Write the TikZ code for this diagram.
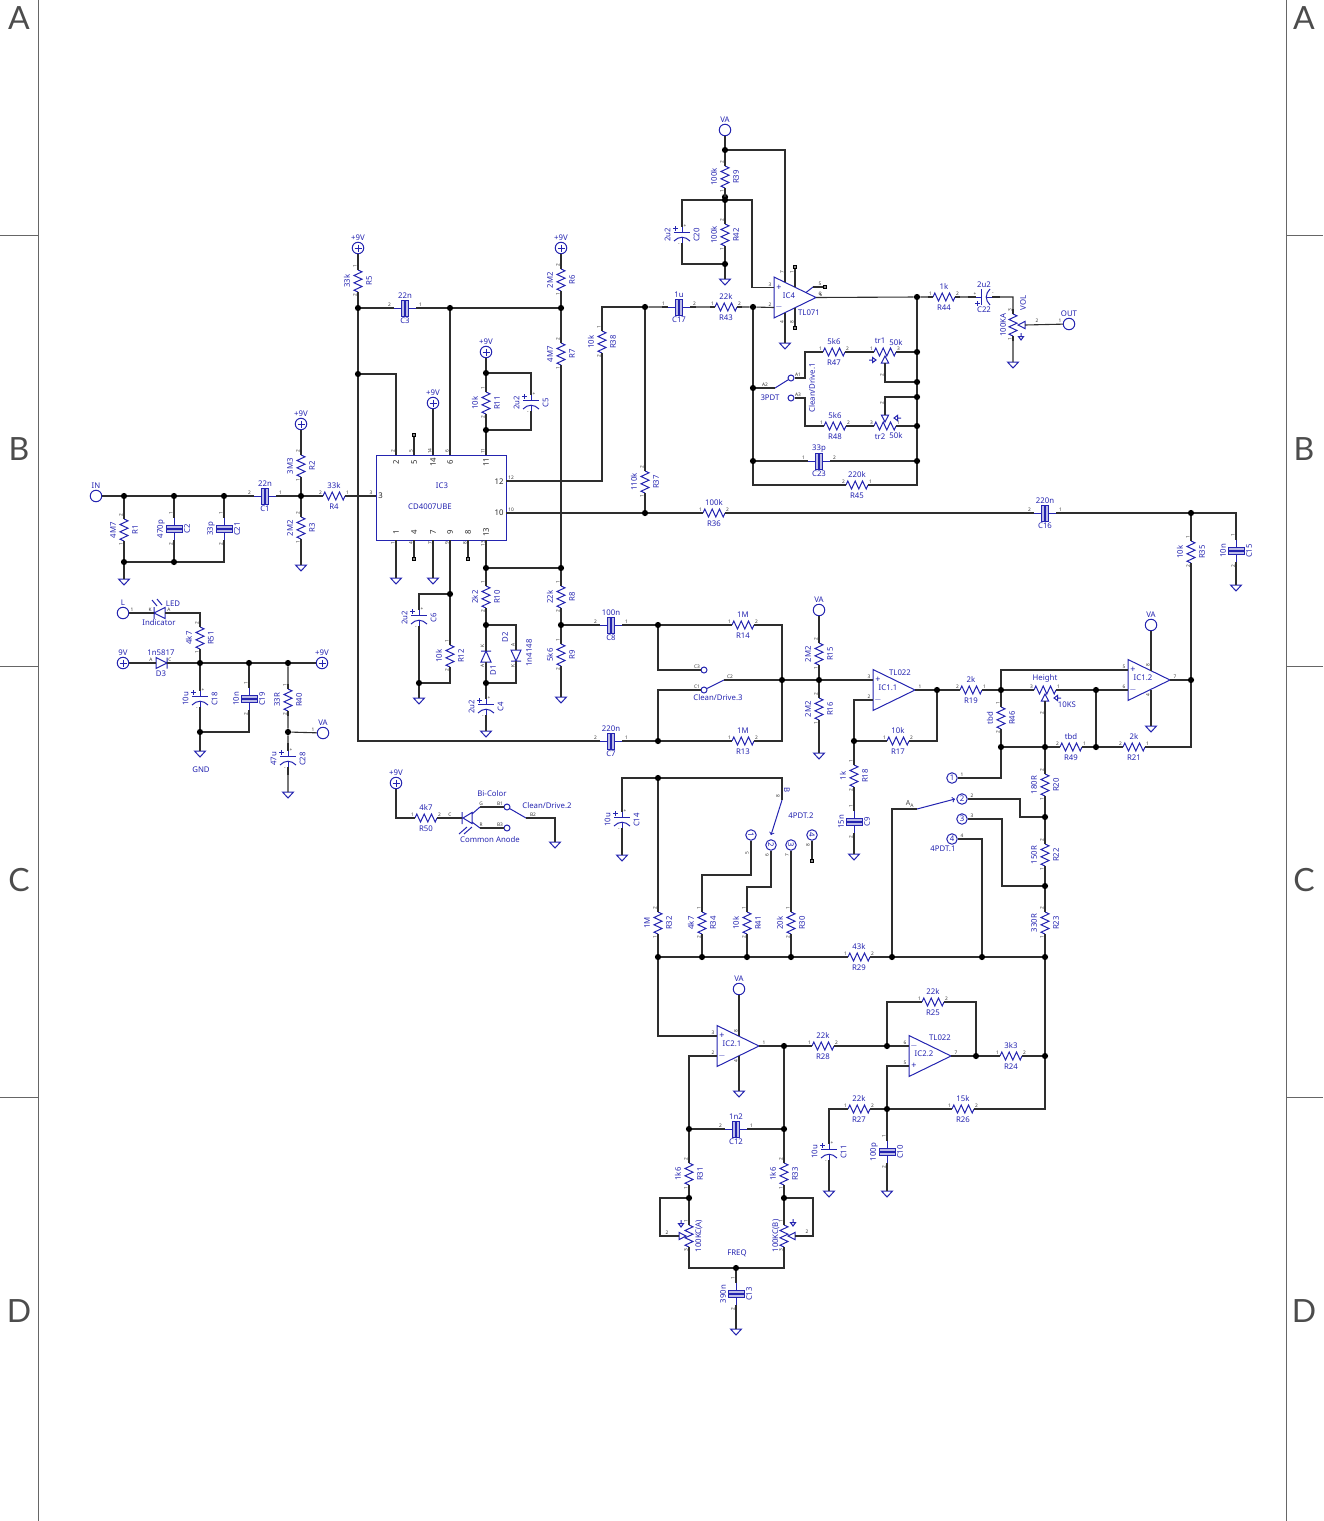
\documentclass[tikz,border=0pt]{standalone}
\usepackage{fontspec}
\setmainfont{Noto Sans}
\newfontfamily\edgefont{Lato}
\usepackage{xcolor}
\definecolor{partblue}{HTML}{2424B0}
\definecolor{wirecol}{HTML}{2E2E2E}

\tikzset{
  wire/.style={draw=wirecol,line width=1.1pt},
  part/.style={draw=partblue,line width=1pt},
  lbl/.style={text=partblue,font=\fontsize{7.8}{8}\selectfont,inner sep=0pt},
  pinnum/.style={text=black!80,font=\fontsize{4.8}{5}\selectfont,inner sep=0pt},
  icpin/.style={text=black!85,font=\fontsize{7.8}{8}\selectfont,inner sep=0pt},
  dot/.style={circle,fill=black,inner sep=0pt,minimum size=6.2pt},
  term/.style={circle,draw=partblue,line width=1pt,fill=white,inner sep=0pt,minimum size=11.5pt},
  termnum/.style={term,text=partblue,font=\fontsize{7.8}{8}\selectfont,minimum size=10.5pt},
  contact/.style={circle,draw=partblue,line width=1pt,fill=white,inner sep=0pt,minimum size=6pt},
  ncsq/.style={rectangle,draw=black,fill=black!45,line width=0.7pt,inner sep=0pt,minimum size=3.6pt},
  edgelet/.style={text=black!70,font=\edgefont\fontsize{32}{32}\selectfont,inner sep=0pt},
  edgeline/.style={draw=black!60,line width=1pt},
  zig/.pic={\draw[part] (0,-11)--(4,-9.2)--(-4,-5.5)--(4,-1.8)--(-4,1.8)--(4,5.5)--(-4,9.2)--(0,11);},
  plates/.pic={\draw[part] (0,-11)--(0,-3.4) (0,3.4)--(0,11);
    \draw[part,fill=partblue!30,line width=0.8pt] (-8,-3.4) rectangle (8,-0.8);
    \draw[part,fill=partblue!30,line width=0.8pt] (-8,0.8) rectangle (8,3.4);},
  polar/.pic={\draw[part] (0,-8)--(0,-3) (0,1.6)--(0,8);
    \draw[part] (-8,-3)--(8,-3);
    \draw[part] (-8,6) .. controls (-3,1) and (3,1) .. (8,6);
    \draw[part,line width=1.2pt] (-8.6,-6.6)--(-4,-6.6) (-6.3,-8.9)--(-6.3,-4.3);},
}

% name, x, y, value, ref, pin, pin
\newcommand{\resv}[7]{\begin{scope}[shift={(#2,#3)}]
  \coordinate (#1t) at (0,-16); \coordinate (#1b) at (0,16);
  \pic {zig}; \draw[wire] (#1t)--(0,-11) (#1b)--(0,11);
  \node[lbl,rotate=90] (#1val) at (-11,0) {#4};
  \node[lbl,rotate=90] (#1ref) at (11,0) {#5};
  \node[pinnum,rotate=90] (#1pa) at (-3,-14.5) {#6};
  \node[pinnum,rotate=90] (#1pb) at (-3,14.5) {#7};
\end{scope}}
\newcommand{\resh}[7]{\begin{scope}[shift={(#2,#3)}]
  \coordinate (#1l) at (-16,0); \coordinate (#1r) at (16,0);
  \pic[rotate=90] {zig}; \draw[wire] (#1l)--(-11,0) (#1r)--(11,0);
  \node[lbl] (#1val) at (0,-10.5) {#4};
  \node[lbl] (#1ref) at (0,11) {#5};
  \node[pinnum] (#1pa) at (-13.5,-3) {#6};
  \node[pinnum] (#1pb) at (13.5,-3) {#7};
\end{scope}}
\newcommand{\capv}[7]{\begin{scope}[shift={(#2,#3)}]
  \coordinate (#1t) at (0,-17); \coordinate (#1b) at (0,17);
  \pic {plates}; \draw[wire] (#1t)--(0,-11) (#1b)--(0,11);
  \node[lbl,rotate=90] (#1val) at (-13,0) {#4};
  \node[lbl,rotate=90] (#1ref) at (13,0) {#5};
  \node[pinnum,rotate=90] (#1pa) at (-3,-15.5) {#6};
  \node[pinnum,rotate=90] (#1pb) at (-3,15.5) {#7};
\end{scope}}
\newcommand{\caph}[7]{\begin{scope}[shift={(#2,#3)}]
  \coordinate (#1l) at (-17,0); \coordinate (#1r) at (17,0);
  \pic[rotate=90] {plates}; \draw[wire] (#1l)--(-11,0) (#1r)--(11,0);
  \node[lbl] (#1val) at (0,-12) {#4};
  \node[lbl] (#1ref) at (0,12.5) {#5};
  \node[pinnum] (#1pa) at (-15.5,-3) {#6};
  \node[pinnum] (#1pb) at (15.5,-3) {#7};
\end{scope}}
% name, x, y, value, ref
\newcommand{\polv}[5]{\begin{scope}[shift={(#2,#3)}]
  \coordinate (#1t) at (0,-16); \coordinate (#1b) at (0,16);
  \pic {polar}; \draw[wire] (#1t)--(0,-8) (#1b)--(0,8);
  \node[lbl,rotate=90] (#1val) at (-14.5,0) {#4};
  \node[lbl,rotate=90] (#1ref) at (14.5,0) {#5};
  \node[pinnum] (#1pa) at (3,-9) {+};
  \node[pinnum] (#1pb) at (-3,9.5) {-};
\end{scope}}
\newcommand{\polh}[5]{\begin{scope}[shift={(#2,#3)}]
  \coordinate (#1l) at (-16,0); \coordinate (#1r) at (16,0);
  \pic[rotate=90] {polar}; \draw[wire] (#1l)--(-8,0) (#1r)--(8,0);
  \node[lbl] (#1val) at (0,-12) {#4};
  \node[lbl] (#1ref) at (0,13) {#5};
  \node[pinnum] (#1pa) at (-9,-3) {+};
  \node[pinnum] (#1pb) at (9,-3) {-};
\end{scope}}
\newcommand{\gnd}[3]{\coordinate (#1) at (#2,#3);
  \draw[part] (#2-5.5,#3)--(#2+5.5,#3)--(#2,#3+6)--cycle;}
\newcommand{\ringterm}[5]{\node[term] (#1) at (#2,#3) {};
  \node[lbl] (#1txt) at (#2+#5,#3-10) {#4};}
\newcommand{\plusterm}[4]{\node[term] (#1) at (#2,#3) {};
  \draw[part] (#2-3.5,#3)--(#2+3.5,#3) (#2,#3-3.5)--(#2,#3+3.5);
  \node[lbl] (#1txt) at (#2,#3-10) {#4};}
% name, x, y, angle of the base seen from the apex
\newcommand{\wipe}[4]{\begin{scope}[shift={(#2,#3)},rotate=#4]
  \draw[part] (0,0)--(7,-3.6)--(7,3.6)--cycle;
  \coordinate (#1) at (7,0);
\end{scope}}
\newcommand{\spinmark}[3]{\begin{scope}[shift={(#1,#2)},rotate=#3]
  \draw[part] (-3,0)--(0.5,-2.6)--(0.5,2.6)--cycle (0.5,0)--(4,0);
\end{scope}}
% name, x, y, label, sign, sign, pin, pin, pin
\newcommand{\opamp}[9]{\begin{scope}[shift={(#2,#3)}]
  \draw[part] (0,-20.5)--(42,0)--(0,20.5)--cycle;
  \coordinate (#1u) at (0,-10); \coordinate (#1d) at (0,10); \coordinate (#1o) at (42,0);
  \node[lbl] (#1txt) at (15,-2) {#4};
  \node[lbl,font=\fontsize{9}{9}\selectfont] (#1su) at (5,-10) {#5};
  \node[lbl,font=\fontsize{9}{9}\selectfont] (#1sd) at (5,10) {#6};
  \node[pinnum] (#1pu) at (-4,-13) {#7};
  \node[pinnum] (#1pd) at (-4,7) {#8};
  \node[pinnum] (#1po) at (47,-3) {#9};
\end{scope}}

\begin{document}
\begin{tikzpicture}[x=1pt,y=-1pt]
\useasboundingbox (0,0) rectangle (1323,1521);

% sheet edge
\coordinate (eL0) at (38,0); \coordinate (eL1) at (38,1521);
\coordinate (eR0) at (1286,0); \coordinate (eR1) at (1286,1521);
\draw[edgeline] (eL0)--(eL1) (eR0)--(eR1);
\foreach \y in {235,666,1097}{
  \coordinate (tl\y) at (0,\y); \coordinate (il\y) at (38,\y);
  \coordinate (tr\y) at (1323,\y); \coordinate (ir\y) at (1286,\y);
  \draw[edgeline] (tl\y)--(il\y) (tr\y)--(ir\y);
}
\foreach \n/\t/\y in {a/A/18,b/B/449,c/C/880,d/D/1311}{
  \node[edgelet] (let\n l) at (19,\y) {\t};
  \node[edgelet] (let\n r) at (1304,\y) {\t};
}

% junctions
\foreach \n/\x/\y in {ja1/124/496,ja2/174/496,ja3/224/496,ja4/124/562,ja5/174/562,ja6/301/496,
  jb1/358/308,jb2/358/374,jb3/450/308,jb4/561/308,jb5/486/373,jb6/486/430,
  jc1/450/594,jc2/419/683,jc3/486/568,jc4/561/568,jc5/486/625,jc6/486/683,jc7/561/625,
  jd1/645/307,jd2/645/513,
  je1/725/150,je2/725/197,je3/725/200,je4/725/264,je5/753/307,je6/753/388,je7/753/461,
  je8/917/297,je9/917/352,je10/917/382,je11/917/397,je12/917/426,je13/917/461,
  jf1/658/625,jf2/658/741,jf3/782/680,jf4/819/680,jf5/937/690,jf6/854/741,jf7/1001/690,
  jf8/1096/690,jf9/1191/680,jf10/1191/513,jf11/1001/747,jf12/1045/747,jf13/1096/747,
  jf14/1045/817,jf15/1045/886,jf16/1045/957,
  jg1/658/778,jg2/658/957,jg3/702/957,jg4/747/957,jg5/791/957,jg6/892/957,jg7/982/957,
  jh1/784/1046,jh2/887/1046,jh3/976/1056,jh4/1045/1056,jh5/887/1109,jh6/689/1129,jh7/784/1129,
  jh8/689/1198,jh9/784/1198,jh10/736/1268,
  ji1/200/663,ji2/249/663,ji3/288/663,ji4/200/732,ji5/288/732}
  \node[dot] (\n) at (\x,\y) {};

% input
\ringterm{IN}{96}{496}{IN}{0}
\resv{R1}{124}{530}{4M7}{R1}{2}{1}
\capv{C2}{174}{529}{470p}{C2}{1}{2}
\capv{C21}{224}{529}{33p}{C21}{1}{2}
\caph{C1}{265}{496}{22n}{C1}{2}{1}
\resv{R2}{301}{466}{3M3}{R2}{2}{1}
\resv{R3}{301}{528}{2M2}{R3}{2}{1}
\resh{R4}{334}{496}{33k}{R4}{2}{1}
\plusterm{P2}{301}{424}{+9V}
\gnd{G1}{124}{579} \gnd{G2}{301}{565}
\draw[wire] (IN)--(ja1)--(ja2)--(ja3)--(C1l) (C1r)--(ja6)--(R4l);
\draw[wire] (ja1)--(R1t) (R1b)--(ja4)--(G1) (ja4)--(ja5) (ja2)--(C2t) (C2b)--(ja5) (ja3)--(C21t) (C21b)|-(ja5);
\draw[wire] (P2)--(R2t) (R2b)--(ja6)--(R3t) (R3b)--(G2);

% power
\ringterm{TL}{123}{613}{L}{0}
\plusterm{T9}{123}{663}{9V}
\plusterm{P3}{322}{663}{+9V}
\ringterm{VA1}{323}{733}{VA}{0}
\coordinate (Lk) at (154,613); \coordinate (La) at (165,613); \coordinate (Lc) at (200,613);
\draw[part,fill=white] (165,607.5)--(Lk)--(165,618.5)--cycle (154,607)--(154,619);
\draw[part] (152,600)--(157,606) (157,599)--(162,605);
\node[lbl] (LEDtxt) at (173,604) {LED};
\node[lbl] (Indtxt) at (159,623) {Indicator};
\node[pinnum] (Lp1) at (132,610) {1}; \node[pinnum] (Lpk) at (150,610) {K}; \node[pinnum] (Lpa) at (169,610) {A};
\coordinate (D3a) at (156,663); \coordinate (D3k) at (167,663);
\draw[part,fill=white] (156,657.5)--(D3k)--(156,668.5)--cycle (167,657.5)--(167,668.5);
\node[lbl] (D3val) at (161,653) {1n5817}; \node[lbl] (D3ref) at (161,674) {D3};
\node[pinnum] (D3pa) at (151,660) {A}; \node[pinnum] (D3pc) at (170,660) {C};
\resv{R51}{200}{638}{4k7}{R51}{2}{1}
\polv{C18}{200}{699}{10u}{C18}
\capv{C19}{249}{699}{10n}{C19}{1}{2}
\resv{R40}{288}{700}{33R}{R40}{1}{2}
\polv{C28}{288}{759}{47u}{C28}
\gnd{G3}{200}{751} \gnd{G4}{288}{792}
\node[lbl] (GNDtxt) at (201,770) {GND};
\node[pinnum] (VAp1) at (313,730) {1};
\draw[wire] (TL)--(Lk) (La)-|(Lc)--(R51t) (R51b)--(ji1);
\draw[wire] (T9)--(D3a) (D3k)--(ji1)--(ji2)--(ji3)--(P3);
\draw[wire] (ji1)--(C18t) (C18b)--(ji4)--(G3) (ji2)--(C19t) (C19b)|-(ji4);
\draw[wire] (ji3)--(R40t) (R40b)--(ji5)--(VA1) (ji5)--(C28t) (C28b)--(G4);

% CD4007
\node[draw=partblue,line width=1pt,inner sep=0pt,minimum width=130pt,minimum height=85pt] (IC3) at (441,497.5) {};
\node[lbl] (IC3txt) at (442,486) {IC3};
\node[lbl] (IC3val) at (430,507) {CD4007UBE};
\foreach \n/\x in {2/396,5/414,14/433,6/450,11/486}{
  \coordinate (up\n) at (\x,455);
  \node[icpin,rotate=90] (ut\n) at (\x,462) {\n};
  \node[pinnum,rotate=90] (up\n n) at (\x-3,451) {\n};
}
\foreach \n/\x in {1/396,4/414,7/433,9/450,8/468,13/486}{
  \coordinate (dn\n) at (\x,540);
  \node[icpin,rotate=90] (dt\n) at (\x,532) {\n};
  \node[pinnum,rotate=90] (dn\n n) at (\x-3,543.5) {\n};
}
\coordinate (pin3) at (376,496); \coordinate (pin12) at (506,481); \coordinate (pin10) at (506,513);
\node[icpin] (tx3) at (380.5,496) {3}; \node[pinnum] (nu3) at (371,493) {3};
\node[icpin] (tx12) at (499,482) {12}; \node[pinnum] (nu12) at (511,478) {12};
\node[icpin] (tx10) at (499,513) {10}; \node[pinnum] (nu10) at (511,510) {10};
\node[ncsq] (nc5) at (414,435) {}; \node[ncsq] (nc4) at (414,559) {}; \node[ncsq] (nc8) at (468,559) {};
\plusterm{P5}{358}{248}{+9V}
\plusterm{P6}{561}{248}{+9V}
\plusterm{P14}{433}{403}{+9V}
\plusterm{P11}{486}{352}{+9V}
\resv{R5}{358}{281}{33k}{R5}{1}{2}
\caph{C3}{405}{308}{22n}{C3}{2}{1}
\resv{R6}{561}{280}{2M2}{R6}{2}{1}
\resv{R7}{561}{354}{4M7}{R7}{2}{1}
\resv{R11}{486}{403}{10k}{R11}{1}{2}
\polv{C5}{531}{403}{2u2}{C5}
\resv{R38}{602}{342}{10k}{R38}{1}{2}
\resv{R37}{645}{482}{110k}{R37}{2}{1}
\draw[wire] (P5)--(R5t) (R5b)--(jb1)--(jb2) (jb1)--(C3l) (C3r)--(jb3)--(jb4)--(R6b) (R6t)--(P6);
\draw[wire] (jb4)--(R7t) (R7b)--(jc4);
\draw[wire] (jb2)-|(up2) (jb3)--(up6) (up5)--(nc5) (up14)--(P14);
\draw[wire] (P11)--(jb5)--(R11t) (R11b)--(jb6)--(up11) (jb5)-|(C5t) (C5b)|-(jb6);
\draw[wire] (R4r)--(pin3);
\draw[wire] (pin12)-|(R38b) (R38t)|-(jd1);
\draw[wire] (jd1)--(R37t) (R37b)--(jd2);

% below the CD4007
\gnd{G5}{396}{578} \gnd{G6}{433}{578} \gnd{G7}{419}{698} \gnd{G8}{486}{731} \gnd{G9}{561}{697}
\polv{C6}{419}{618}{2u2}{C6}
\resv{R12}{450}{656}{10k}{R12}{1}{2}
\resv{R10}{486}{597}{2k2}{R10}{1}{2}
\polv{C4}{486}{707}{2u2}{C4}
\resv{R8}{561}{597}{22k}{R8}{1}{2}
\resv{R9}{561}{655}{5k6}{R9}{1}{2}
\caph{C8}{611}{625}{100n}{C8}{2}{1}
\caph{C7}{611}{741}{220n}{C7}{2}{1}
\coordinate (D1k) at (486,651); \coordinate (D1a) at (486,662);
\draw[part,fill=white] (481,662)--(D1k)--(491,662)--cycle (481,651)--(491,651);
\node[lbl,rotate=90] (D1ref) at (493,670) {D1};
\node[pinnum,rotate=90] (D1pk) at (482.5,646) {K}; \node[pinnum,rotate=90] (D1pa) at (482.5,666) {A};
\coordinate (D2a) at (516,650); \coordinate (D2k) at (516,661);
\draw[part,fill=white] (511,650)--(D2k)--(521,650)--cycle (511,661)--(521,661);
\node[lbl,rotate=90] (D2ref) at (505,637) {D2}; \node[lbl,rotate=90] (D2val) at (529,653) {1n4148};
\node[pinnum,rotate=90] (D2pa) at (513,645) {A}; \node[pinnum,rotate=90] (D2pk) at (513,666) {K};
\draw[wire] (dn1)--(G5) (dn4)--(nc4) (dn7)--(G6) (dn8)--(nc8);
\draw[wire] (dn9)--(jc1)--(R12t) (R12b)|-(jc2) (jc1)-|(C6t) (C6b)--(jc2)--(G7);
\draw[wire] (dn13)--(jc3)--(R10t) (R10b)--(jc5)--(D1k) (D1a)--(jc6)--(C4t) (C4b)--(G8);
\draw[wire] (jc3)--(jc4)--(R8t) (R8b)--(jc7)--(R9t) (R9b)--(G9);
\draw[wire] (jc5)-|(D2a) (D2k)|-(jc6);
\draw[wire] (jc7)--(C8l) (C8r)--(jf1);
\draw[wire] (jb2)|-(C7l) (C7r)--(jf2);

% indicator
\plusterm{P50}{396}{783}{+9V}
\resh{R50}{426}{818}{4k7}{R50}{1}{2}
\coordinate (Qb) at (462,818); \coordinate (Qg) at (480,807); \coordinate (Qr) at (480,828);
\draw[part] (462,812)--(462,824) (463,818)--(472,812.5)--(472,823.5)--cycle (472,814)--(Qg) (472,822)--(Qr);
\draw[part] (459,834)--(467,827) (464,834)--(472,827);
\node[contact] (B1) at (507,807) {}; \node[contact] (B3) at (507,828) {};
\coordinate (B2) at (526,818); \gnd{G10}{555}{842}
\draw[part] (B1)--(B2);
\draw[wire] (P50)|-(R50l) (R50r)--(Qb) (Qg)--(B1) (Qr)--(B3) (B2)-|(G10);
\node[lbl] (BCtxt) at (492,794) {Bi-Color}; \node[lbl] (CAtxt) at (490,840) {Common Anode};
\node[lbl] (CD2txt) at (547,806) {Clean/Drive.2};
\node[pinnum] (Qpc) at (450,815) {C}; \node[pinnum] (Qpg) at (481,804) {G}; \node[pinnum] (Qpr) at (481,825) {R};
\node[pinnum] (Qb1) at (500,804) {B1}; \node[pinnum] (Qb3) at (500,825) {B3}; \node[pinnum] (Qb2) at (533,815) {B2};

% TL071 stage
\ringterm{VA2}{725}{130}{VA}{0}
\resv{R39}{725}{177}{100k}{R39}{2}{1}
\resv{R42}{725}{235}{100k}{R42}{2}{1}
\polv{C20}{682}{235}{2u2}{C20}
\gnd{G11}{725}{279} \gnd{G12}{785}{343} \gnd{G13}{1013}{362}
\opamp{IC4}{774}{297.5}{IC4}{+}{$-$}{3}{2}{6}
\node[lbl] (IC4val) at (809,313) {TL071};
\coordinate (IC4a) at (785,282); \coordinate (IC4b) at (785,313); \coordinate (IC4w) at (752,287.5);
\coordinate (IC4c) at (795,287); \coordinate (IC4g) at (795,308);
\coordinate (IC4e) at (806,292.5); \coordinate (IC4f) at (813,287);
\node[ncsq] (nc41) at (795,267) {}; \node[ncsq] (nc45) at (825,287) {}; \node[ncsq] (nc48) at (795,328) {};
\node[pinnum,rotate=90] (n47) at (782,272) {7}; \node[pinnum,rotate=90] (n41) at (792,272) {1};
\node[pinnum] (n45) at (820,284) {5}; \node[pinnum] (n46) at (820,294) {6};
\node[pinnum,rotate=90] (n44) at (782,322) {4}; \node[pinnum,rotate=90] (n48) at (792,322) {8};
\caph{C17}{679}{307}{1u}{C17}{1}{2}
\resh{R43}{726}{307}{22k}{R43}{1}{2}
\resh{R44}{944}{297}{1k}{R44}{1}{2}
\polh{C22}{984}{297}{2u2}{C22}
\resv{VOL}{1013}{325}{}{}{3}{1}
\node[lbl,rotate=90] (VOLval) at (1003,325) {100KA};
\node[lbl,rotate=90] (VOLref) at (1023,303) {VOL};
\wipe{VOLw}{1018}{325}{0}
\spinmark{1021}{337}{90}
\ringterm{OUT}{1069}{324}{OUT}{0}
\node[pinnum] (VOLp2) at (1037,321) {2}; \node[pinnum] (OUTp1) at (1060,321) {1};
\draw[wire] (VA2)--(je1)--(R39t) (R39b)--(je2)--(je3)--(R42t) (R42b)--(je4)--(G11);
\draw[wire] (je1)-|(IC4a) (je3)-|(C20t) (C20b)|-(je4) (je3)-|(IC4w)--(IC4u);
\draw[wire] (IC4b)--(G12) (IC4c)--(nc41) (IC4g)--(nc48);
\draw[part] (IC4e)--(IC4f); \draw[wire] (IC4f)--(nc45);
\draw[wire] (jd1)--(C17l) (C17r)--(R43l) (R43r)--(je5)--(IC4d);
\draw[wire] (IC4o)--(je8)--(R44l) (R44r)--(C22l) (C22r)-|(VOLt) (VOLb)--(G13) (VOLw)--(OUT);

% drive selector
\resh{R47}{834}{352}{5k6}{R47}{1}{2}
\resh{R48}{835}{426}{5k6}{R48}{1}{2}
\resh{TR1}{885}{352}{}{}{1}{3}
\resh{TR2}{885}{426}{}{}{3}{1}
\node[lbl] (TR1ref) at (880,341) {tr1}; \node[lbl] (TR1val) at (896,343) {50k};
\node[lbl] (TR2ref) at (880,437) {tr2}; \node[lbl] (TR2val) at (896,436) {50k};
\wipe{TR1w}{885}{356}{-90} \wipe{TR2w}{885}{422}{90}
\spinmark{873}{360}{180} \spinmark{897}{418}{0}
\node[pinnum,rotate=90] (TR1p2) at (882,375) {2}; \node[pinnum,rotate=90] (TR2p2) at (882,403) {2};
\caph{C23}{819}{461}{33p}{C23}{1}{2}
\resh{R45}{857}{485}{220k}{R45}{2}{1}
\coordinate (A2) at (775,388); \coordinate (A1c) at (805,352); \coordinate (A3c) at (805,426);
\node[contact] (A1) at (791,378) {}; \node[contact] (A3) at (791,398) {};
\node[pinnum] (A2txt) at (765,385) {A2}; \node[pinnum] (A1txt) at (798,375) {A1}; \node[pinnum] (A3txt) at (798,395) {A3};
\node[lbl] (PDT3) at (770,398) {3PDT};
\node[lbl,rotate=90] (CD1txt) at (812,388) {Clean/Drive.1};
\draw[part] (A2)--(A1);
\draw[wire] (je5)--(je6)--(je7) (je6)--(A2) (A1)-|(A1c)--(R47l) (A3)-|(A3c)--(R48l);
\draw[wire] (R47r)--(TR1l) (TR1r)--(je9) (TR1w)|-(je10);
\draw[wire] (R48r)--(TR2l) (TR2r)--(je12) (TR2w)|-(je11);
\draw[wire] (je7)--(C23l) (C23r)--(je13) (je7)|-(R45l) (R45r)-|(je13);
\draw[wire] (je8)--(je9)--(je10)--(je11)--(je12)--(je13);

% long run to the output
\resh{R36}{714}{513}{100k}{R36}{1}{2}
\caph{C16}{1045}{513}{220n}{C16}{2}{1}
\capv{C15}{1236}{551}{10n}{C15}{1}{2}
\resv{R35}{1191}{552}{10k}{R35}{1}{2}
\gnd{G16}{1236}{585}
\draw[wire] (pin10)--(jd2)--(R36l) (R36r)--(C16l) (C16r)--(jf10)-|(C15t) (C15b)--(G16);

% clean / drive.3 and IC1.1
\resh{R14}{743}{625}{1M}{R14}{1}{2}
\resh{R13}{743}{741}{1M}{R13}{1}{2}
\node[contact] (SC3) at (704,670) {}; \node[contact] (SC1) at (704,690) {};
\coordinate (SC2) at (724,680);
\node[pinnum] (SC3t) at (697,667) {C3}; \node[pinnum] (SC1t) at (697,687) {C1}; \node[pinnum] (SC2t) at (730,677) {C2};
\node[lbl] (CD3txt) at (718,698) {Clean/Drive.3};
\ringterm{VA3}{819}{610}{VA}{0}
\resv{R15}{819}{654}{2M2}{R15}{2}{1}
\resv{R16}{819}{709}{2M2}{R16}{2}{1}
\gnd{G14}{819}{753} \gnd{G15}{854}{854}
\opamp{IC11}{873}{690}{IC1.1}{+}{$-$}{3}{2}{1}
\node[lbl] (IC11val) at (900,673) {TL022};
\resh{R17}{898}{741}{10k}{R17}{1}{2}
\resv{R18}{854}{776}{1k}{R18}{1}{2}
\capv{C9}{854}{822}{15n}{C9}{1}{2}
\resh{R19}{971}{690}{2k}{R19}{2}{1}
\draw[part] (SC1)--(SC2);
\draw[wire] (jf1)--(R14l) (R14r)-|(jf3) (jf2)--(R13l) (R13r)-|(jf3);
\draw[wire] (jf1)|-(SC3) (jf2)|-(SC1) (SC2)--(jf3)--(jf4)--(IC11u);
\draw[wire] (VA3)--(R15t) (R15b)--(jf4)--(R16t) (R16b)--(G14);
\draw[wire] (IC11o)--(jf5)--(R19l) (R19r)--(jf7) (jf5)|-(R17r) (R17l)--(jf6);
\draw[wire] (jf6)|-(IC11d) (jf6)--(R18t) (R18b)--(C9t) (C9b)--(G15);

% IC1.2 and height
\opamp{IC12}{1128}{680}{IC1.2}{+}{$-$}{5}{6}{7}
\ringterm{VA4}{1151}{625}{VA}{0}
\coordinate (IC12a) at (1151,671); \coordinate (IC12b) at (1151,690);
\gnd{G17}{1151}{726}
\node[pinnum,rotate=90] (n128) at (1148,665) {8}; \node[pinnum,rotate=90] (n124) at (1148,695) {4};
\resh{HT}{1045}{690}{}{}{3}{1}
\node[lbl] (HTval) at (1045,678) {Height}; \node[lbl] (HTref) at (1067,705) {10KS};
\wipe{HTw}{1045}{694}{-90}
\spinmark{1057}{698}{0}
\node[pinnum,rotate=90] (HTp2) at (1042,713) {2};
\resv{R46}{1001}{718}{tbd}{R46}{1}{2}
\resh{R49}{1071}{747}{tbd}{R49}{2}{1}
\resh{R21}{1134}{747}{2k}{R21}{2}{1}
\resv{R20}{1045}{785}{180R}{R20}{2}{1}
\resv{R22}{1045}{855}{150R}{R22}{2}{1}
\resv{R23}{1045}{923}{330R}{R23}{2}{1}
\draw[wire] (jf7)|-(IC12u) (jf7)--(HTl) (HTr)--(jf8)--(IC12d) (jf8)--(jf13);
\draw[wire] (IC12o)--(jf9)--(R35b) (R35t)--(jf10) (VA4)--(IC12a) (IC12b)--(G17);
\draw[wire] (jf7)--(R46t) (R46b)--(jf11)--(jf12)--(R49l) (R49r)--(jf13)--(R21l) (R21r)-|(jf9);
\draw[wire] (HTw)--(jf12)--(R20t) (R20b)--(jf14)--(R22t) (R22b)--(jf15)--(R23t) (R23b)--(jf16);

% 4PDT.1
\node[termnum] (S1) at (952,778) {1}; \node[termnum] (S2) at (962,799) {2};
\node[termnum] (S3) at (962,819) {3}; \node[termnum] (S4) at (952,839) {4};
\node[pinnum] (S1n) at (962,775) {1}; \node[pinnum] (S2n) at (972,796) {2};
\node[pinnum] (S3n) at (972,816) {3}; \node[pinnum] (S4n) at (962,836) {4};
\node[lbl] (PD1txt) at (943,849) {4PDT.1};
\coordinate (S2c) at (1020,817); \coordinate (S3c) at (1002,886);
\coordinate (AAc) at (892,809); \coordinate (AAb) at (917,809); \coordinate (AAe) at (955,799);
\node[text=black!75,font=\fontsize{7}{8}\selectfont,inner sep=0pt] (AAtxt) at (910,804) {A\textsubscript{A}};
\draw[part,->] (AAb)--(AAe);
\draw[wire] (jf11)|-(S1) (S2)-|(S2c)--(jf14) (S3)-|(S3c)--(jf15) (S4)-|(jg7);
\draw[wire] (jg6)--(AAc)--(AAb);

% 4PDT.2
\node[termnum,rotate=-90] (U1) at (751,835) {1}; \node[termnum,rotate=-90] (U2) at (771,845) {2};
\node[termnum,rotate=-90] (U3) at (791,845) {3}; \node[termnum,rotate=-90] (U4) at (812,835) {4};
\node[pinnum,rotate=90] (U1n) at (747,853) {5}; \node[pinnum,rotate=90] (U2n) at (767,855) {6};
\node[pinnum,rotate=90] (U3n) at (787,855) {7}; \node[pinnum,rotate=90] (U4n) at (808,845) {8};
\node[ncsq] (nc49) at (812,861) {};
\node[lbl] (PD2txt) at (801,816) {4PDT.2};
\coordinate (BB) at (782,800); \coordinate (BBe) at (771,835); \coordinate (U1c) at (702,875); \coordinate (U2c) at (747,887);
\node[pinnum,rotate=90] (BBn) at (778,796) {8}; \node[lbl,rotate=-90] (BBtxt) at (787,790) {B};
\polv{C14}{622}{820}{10u}{C14}
\gnd{G18}{622}{855}
\resv{R32}{658}{923}{1M}{R32}{2}{1}
\resv{R34}{702}{923}{4k7}{R34}{1}{2}
\resv{R41}{747}{923}{10k}{R41}{1}{2}
\resv{R30}{791}{923}{20k}{R30}{1}{2}
\resh{R29}{859}{957}{43k}{R29}{1}{2}
\draw[part,->] (BB)--(BBe);
\draw[wire] (jg1)-|(BB) (jg1)-|(C14t) (C14b)--(G18) (jg1)--(R32t) (R32b)--(jg2);
\draw[wire] (U1)|-(U1c)--(R34t) (R34b)--(jg3) (U2)|-(U2c)--(R41t) (R41b)--(jg4) (U3)--(R30t) (R30b)--(jg5) (U4)--(nc49);
\draw[wire] (jg2)--(jg3)--(jg4)--(jg5)--(R29l) (R29r)--(jg6)--(jg7)--(jf16)--(jh4);

% IC2
\opamp{IC21}{717}{1046}{IC2.1}{+}{$-$}{3}{2}{1}
\opamp{IC22}{909}{1056}{IC2.2}{$-$}{+}{6}{5}{7}
\node[lbl] (IC22val) at (940,1038) {TL022};
\ringterm{VA5}{739}{989}{VA}{0}
\coordinate (IC21a) at (739,1036); \coordinate (IC21b) at (739,1056); \gnd{G19}{739}{1091}
\node[pinnum,rotate=90] (n218) at (736,1031) {8}; \node[pinnum,rotate=90] (n214) at (736,1061) {4};
\resh{R28}{823}{1046}{22k}{R28}{1}{2}
\resh{R25}{933}{1002}{22k}{R25}{1}{2}
\resh{R24}{1011}{1056}{3k3}{R24}{1}{2}
\resh{R27}{859}{1109}{22k}{R27}{1}{2}
\resh{R26}{963}{1109}{15k}{R26}{1}{2}
\polv{C11}{829}{1152}{10u}{C11}
\capv{C10}{887}{1152}{100p}{C10}{1}{2}
\gnd{G20}{829}{1191} \gnd{G21}{887}{1191}
\draw[wire] (jg2)|-(IC21u) (VA5)--(IC21a) (IC21b)--(G19);
\draw[wire] (IC21o)--(jh1)--(R28l) (R28r)--(jh2)--(IC22u) (jh2)|-(R25l) (R25r)-|(jh3);
\draw[wire] (IC22o)--(jh3)--(R24l) (R24r)--(jh4)|-(R26r) (R26l)--(jh5)|-(IC22d);
\draw[wire] (jh5)--(R27r) (R27l)-|(C11t) (C11b)--(G20) (jh5)--(C10t) (C10b)--(G21);

% freq
\caph{C12}{736}{1129}{1n2}{C12}{2}{1}
\resv{R31}{689}{1174}{1k6}{R31}{2}{1}
\resv{R33}{784}{1174}{1k6}{R33}{2}{1}
\resv{POTA}{689}{1236}{}{}{1}{3}
\resv{POTB}{784}{1236}{}{}{1}{3}
\node[lbl,rotate=90] (POTAval) at (699,1236) {100KC(A)};
\node[lbl,rotate=90] (POTBval) at (776,1236) {100KC(B)};
\wipe{POTAw}{686}{1236}{180} \wipe{POTBw}{788}{1236}{0}
\spinmark{681}{1224}{90} \spinmark{793}{1223}{90}
\node[pinnum] (POTAp2) at (667,1233) {2}; \node[pinnum] (POTBp2) at (807,1232) {2};
\coordinate (LAc) at (660,1236); \coordinate (LBc) at (813,1236);
\node[lbl] (FREQtxt) at (737,1253) {FREQ};
\capv{C13}{736}{1294}{390n}{C13}{1}{2}
\gnd{G22}{736}{1329}
\draw[wire] (IC21d)-|(jh6)--(R31t) (R31b)--(jh8)--(POTAt) (jh6)--(C12l) (C12r)--(jh7);
\draw[wire] (jh1)--(jh7)--(R33t) (R33b)--(jh9)--(POTBt);
\draw[wire] (jh8)-|(LAc)--(POTAw) (jh9)-|(LBc)--(POTBw);
\draw[wire] (POTAb)|-(jh10) (POTBb)|-(jh10) (jh10)--(C13t) (C13b)--(G22);
\end{tikzpicture}
\end{document}
